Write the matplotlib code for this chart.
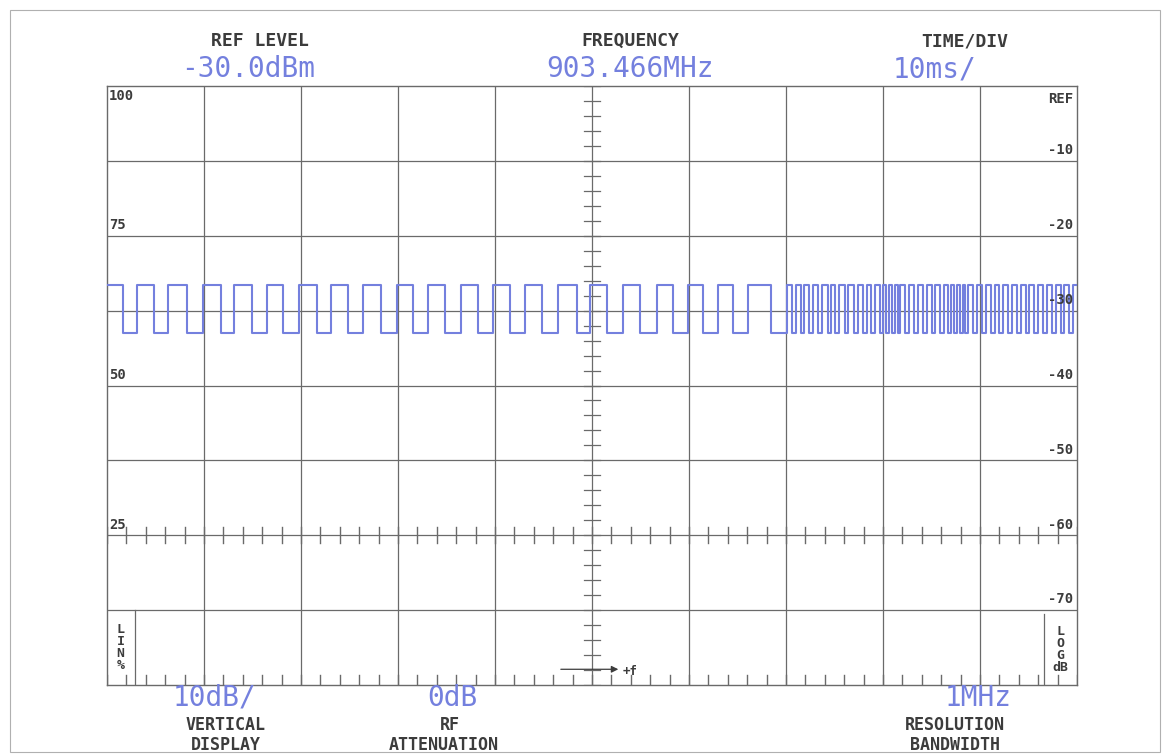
import numpy as np
import matplotlib.pyplot as plt
from matplotlib.patches import Rectangle

# sweep settings shown on the screen
ref_level = "-30.0dBm"
frequency = "903.466MHz"
time_div = "10ms/"
vert_display = "10dB/"
rf_atten = "0dB"
res_bw = "1MHz"

# left (linear %) and right (log dB) scale labels
lin_labels = ["100", "75", "50", "25"]
lin_label_db = [0, -20, -40, -60]
log_labels = ["REF", "-10", "-20", "-30", "-40", "-50", "-60", "-70"]
log_label_db = [0, -10, -20, -30, -40, -50, -60, -70]

# burst trace: starts high at 0 ms, each entry toggles the level (ms)
edges_ms = [1.65, 3.09, 4.85, 6.29, 8.25, 9.90, 11.75, 13.09, 14.95, 16.49,
            18.14, 19.79, 21.65, 23.09, 24.85, 26.39, 28.25, 29.90, 31.55, 33.09,
            34.85, 36.49, 38.25, 39.79, 41.55, 43.09, 44.85, 46.49, 48.45, 49.79,
            51.55, 53.20, 54.95, 56.70, 58.35, 59.90, 61.44, 62.99, 64.54, 66.08,
            68.45, 70.10,
            70.6, 71.0, 71.5, 71.9, 72.4, 72.8, 73.3, 73.7, 74.3, 74.6,
            75.1, 75.5, 76.1, 76.4, 77.0, 77.4, 77.9, 78.3, 78.8, 79.2,
            79.7, 80.0, 80.3, 80.6, 80.9, 81.2, 81.5, 81.8, 82.3, 82.7,
            83.2, 83.6, 84.1, 84.5, 85.0, 85.4, 85.9, 86.3, 86.7, 87.0,
            87.3, 87.6, 87.9, 88.2, 88.5, 88.8, 89.3, 89.7, 90.2, 90.6,
            91.1, 91.5, 92.0, 92.4, 92.9, 93.3, 93.8, 94.2, 94.7, 95.1,
            95.6, 96.0, 96.5, 96.9, 97.4, 97.8, 98.3, 98.7, 99.2, 99.6]
high_db = -26.6
low_db = -33.0

BLUE = "#7480de"
DARK = "#3c3c3c"
GRID = "#6a6a6a"
MONO = "DejaVu Sans Mono"

# build the stepped trace
t = [0.0]
lvl = [high_db]
state = True
for e in edges_ms:
    t += [e, e]
    lvl += [high_db if state else low_db, low_db if state else high_db]
    state = not state
t.append(100.0)
lvl.append(high_db if state else low_db)

fig = plt.figure(figsize=(11.71, 7.55), dpi=100)
fig.patch.set_facecolor("white")
ax = fig.add_axes([107 / 1171, 1 - 685 / 755, 970 / 1171, 599 / 755])
ax.set_xlim(0, 100)
ax.set_ylim(-80, 0)
ax.set_xticks([])
ax.set_yticks([])
for s in ax.spines.values():
    s.set_color(GRID)
    s.set_linewidth(1.0)

# graticule
for x in range(10, 100, 10):
    ax.axvline(x, color=GRID, lw=0.9, zorder=1)
for y in range(-70, 0, 10):
    ax.axhline(y, color=GRID, lw=0.9, zorder=1)

# minor ticks on center line, -60 line and bottom edge
for y in np.arange(-80, 0.1, 2):
    ax.plot([49.2, 50.8], [y, y], color=GRID, lw=0.9, zorder=1)
for x in np.arange(0, 100.1, 2):
    ax.plot([x, x], [-61.1, -58.9], color=GRID, lw=1.0, zorder=1)
    ax.plot([x, x], [-80, -78.6], color=GRID, lw=1.0, zorder=1)

ax.plot(t, lvl, color=BLUE, lw=1.5, zorder=3)

# scale labels
for lab, y in zip(lin_labels, lin_label_db):
    ax.text(0.2, y - 0.4 if lab == "100" else y + 0.5, lab, fontsize=10,
            family=MONO, weight="bold", color=DARK,
            va="top" if lab == "100" else "bottom", ha="left", zorder=4)
for lab, y in zip(log_labels, log_label_db):
    ax.text(99.6, y - 0.8 if lab == "REF" else y + 0.5, lab, fontsize=10,
            family=MONO, weight="bold", color=DARK,
            va="top" if lab == "REF" else "bottom", ha="right", zorder=4)

# LIN / LOG mode markers
ax.plot([2.9, 2.9], [-80, -70], color=GRID, lw=0.9)
ax.text(1.4, -75, "L\nI\nN\n%", fontsize=9.5, family=MONO, weight="bold",
        color=DARK, ha="center", va="center", linespacing=0.9)
ax.plot([96.6, 96.6], [-80, -70.5], color=GRID, lw=0.9)
ax.text(98.3, -75.3, "L\nO\nG\ndB", fontsize=9.5, family=MONO, weight="bold",
        color=DARK, ha="center", va="center", linespacing=0.9)

# frequency direction arrow
ax.annotate("", xy=(53.0, -77.9), xytext=(46.5, -77.9),
            arrowprops=dict(arrowstyle="-|>", color=DARK, lw=0.9))
ax.text(53.2, -78.2, "+f", fontsize=9, family=MONO, weight="bold",
        color=DARK, va="center")

# header / footer annotations
def hdr(x, y, s, color=DARK, size=13, weight="bold"):
    fig.text(x / 1171, 1 - y / 755, s, fontsize=size, family=MONO,
             weight=weight, color=color, ha="center", va="center")

hdr(260, 41, "REF LEVEL")
hdr(248, 69, ref_level, BLUE, 20, "normal")
hdr(630, 41, "FREQUENCY")
hdr(630, 69, frequency, BLUE, 20, "normal")
hdr(965, 41, "TIME/DIV")
hdr(935, 69, time_div, BLUE, 20, "normal")

hdr(215, 698, vert_display, BLUE, 20, "normal")
hdr(226, 725, "VERTICAL", size=12)
hdr(226, 745, "DISPLAY", size=12)
hdr(452, 698, rf_atten, BLUE, 20, "normal")
hdr(450, 725, "RF", size=12)
hdr(444, 745, "ATTENUATION", size=12)
hdr(978, 698, res_bw, BLUE, 20, "normal")
hdr(955, 725, "RESOLUTION", size=12)
hdr(955, 745, "BANDWIDTH", size=12)

# outer sheet border
fig.patches.append(Rectangle((10 / 1171, 1 - 752 / 755), 1150 / 1171, 742 / 755,
                             transform=fig.transFigure, fill=False,
                             edgecolor="#b0b0b0", lw=0.8))

fig.savefig("out.png", dpi=100)
